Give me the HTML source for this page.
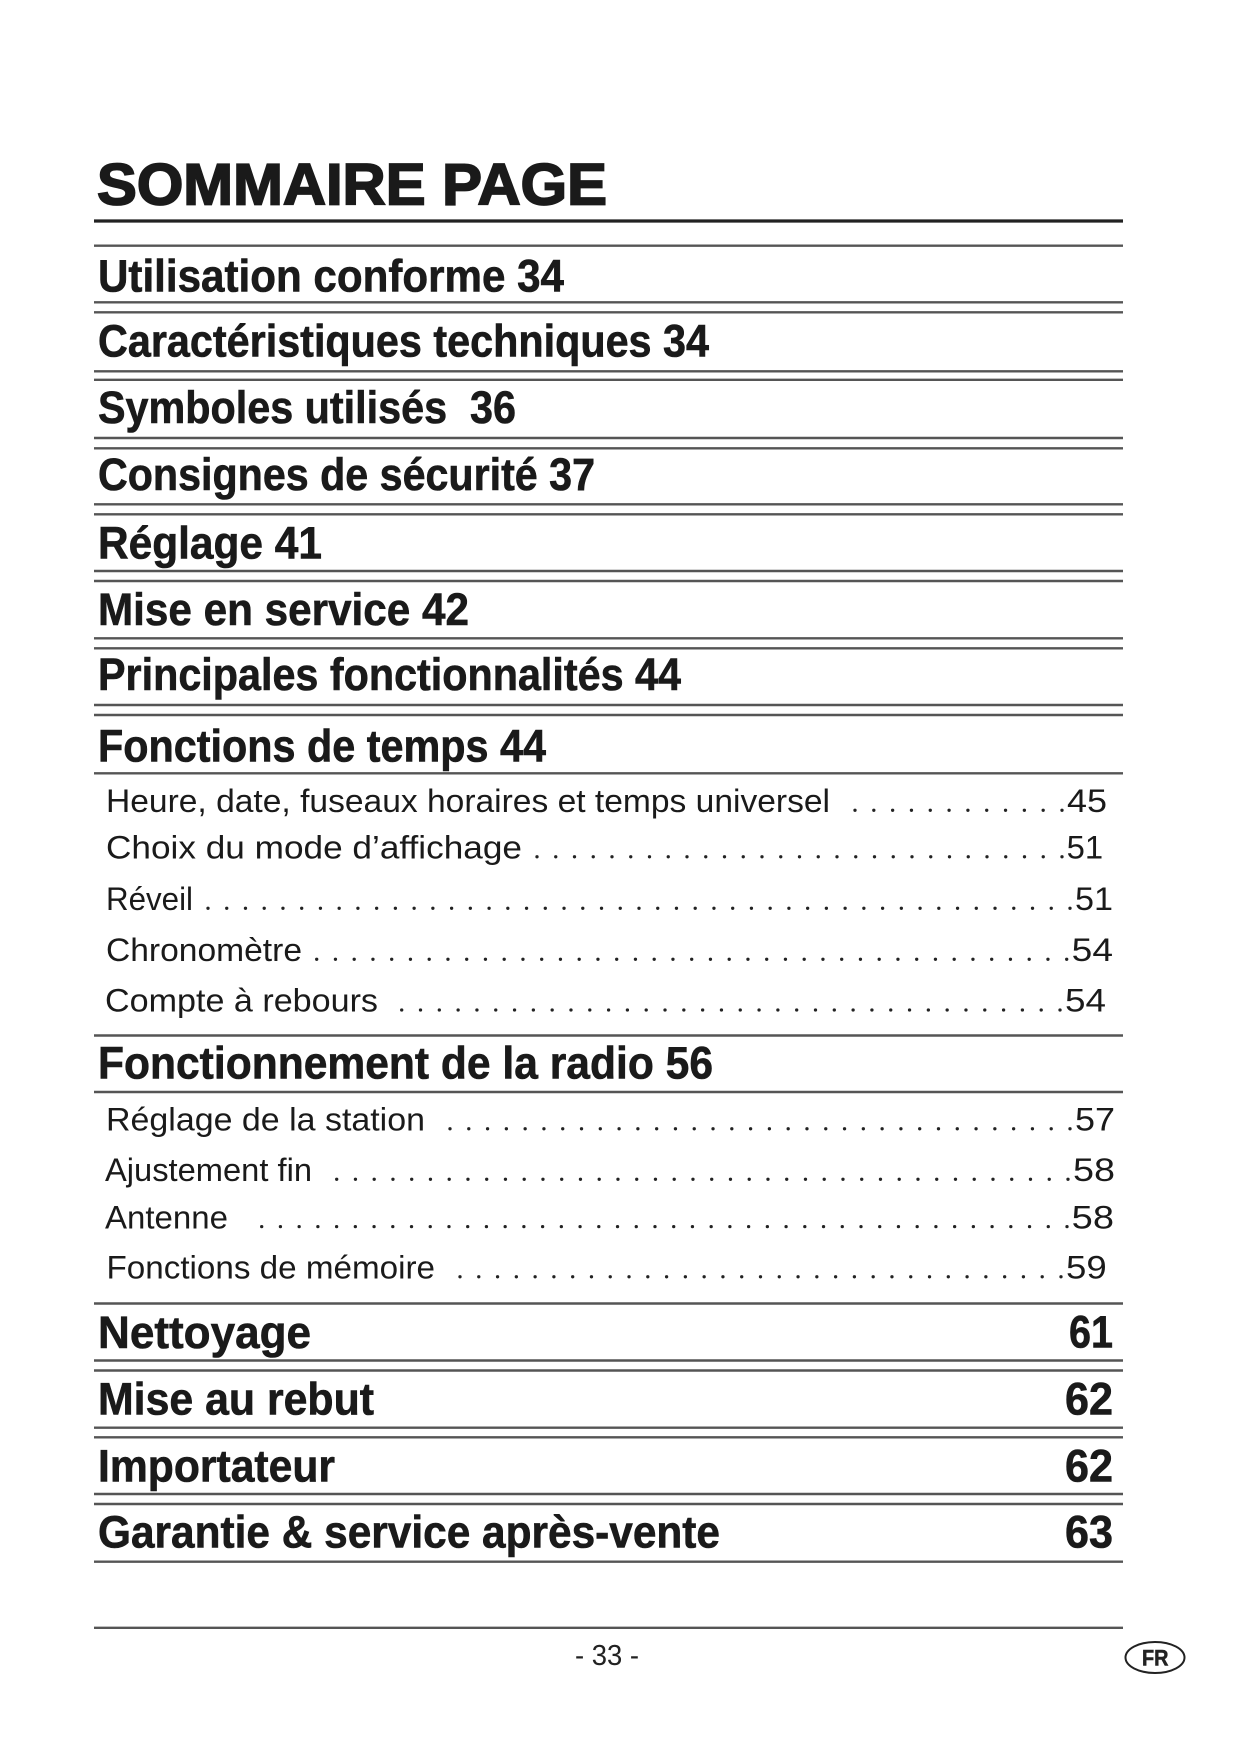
<!DOCTYPE html>
<html>
<head>
<meta charset="utf-8">
<style>
html,body{margin:0;padding:0;background:#ffffff;}
svg{display:block;}
text{font-family:"Liberation Sans",sans-serif;fill:#1a1a1a;}
.h{font-weight:bold;font-size:45px;stroke:#1a1a1a;stroke-width:0.6px;}
.s{font-size:32.5px;}
</style>
</head>
<body>
<svg width="1241" height="1754" viewBox="0 0 1241 1754" xmlns="http://www.w3.org/2000/svg">
<rect width="1241" height="1754" fill="#ffffff"/>

<!-- Title -->
<text x="97" y="204.5" style="font-weight:bold;font-size:58px;stroke:#1a1a1a;stroke-width:1.8px" textLength="510" lengthAdjust="spacingAndGlyphs">SOMMAIRE PAGE</text>
<line x1="94" y1="221" x2="1123" y2="221" stroke="#222" stroke-width="3.2"/>

<!-- rules -->
<g stroke="#555" stroke-width="2.4">
<line x1="94" y1="245.7" x2="1123" y2="245.7"/>
<line x1="94" y1="302.3" x2="1123" y2="302.3"/>
<line x1="94" y1="312.3" x2="1123" y2="312.3"/>
<line x1="94" y1="371.3" x2="1123" y2="371.3"/>
<line x1="94" y1="379.8" x2="1123" y2="379.8"/>
<line x1="94" y1="438" x2="1123" y2="438"/>
<line x1="94" y1="448.3" x2="1123" y2="448.3"/>
<line x1="94" y1="504.3" x2="1123" y2="504.3"/>
<line x1="94" y1="514.3" x2="1123" y2="514.3"/>
<line x1="94" y1="571" x2="1123" y2="571"/>
<line x1="94" y1="581" x2="1123" y2="581"/>
<line x1="94" y1="638.3" x2="1123" y2="638.3"/>
<line x1="94" y1="648.3" x2="1123" y2="648.3"/>
<line x1="94" y1="705" x2="1123" y2="705"/>
<line x1="94" y1="715" x2="1123" y2="715"/>
<line x1="94" y1="773.3" x2="1123" y2="773.3"/>
<line x1="94" y1="1035.5" x2="1123" y2="1035.5"/>
<line x1="94" y1="1092" x2="1123" y2="1092"/>
<line x1="94" y1="1303.5" x2="1123" y2="1303.5"/>
<line x1="94" y1="1360.5" x2="1123" y2="1360.5"/>
<line x1="94" y1="1370.5" x2="1123" y2="1370.5"/>
<line x1="94" y1="1427.7" x2="1123" y2="1427.7"/>
<line x1="94" y1="1437.3" x2="1123" y2="1437.3"/>
<line x1="94" y1="1494" x2="1123" y2="1494"/>
<line x1="94" y1="1504" x2="1123" y2="1504"/>
<line x1="94" y1="1561.7" x2="1123" y2="1561.7"/>
<line x1="94" y1="1627.8" x2="1123" y2="1627.8"/>
</g>

<!-- headings -->
<text class="h" x="98" y="291.7" textLength="466" lengthAdjust="spacingAndGlyphs">Utilisation conforme 34</text>
<text class="h" x="98" y="356.7" textLength="611" lengthAdjust="spacingAndGlyphs">Caractéristiques techniques 34</text>
<text class="h" x="98" y="423" textLength="418" lengthAdjust="spacingAndGlyphs" xml:space="preserve">Symboles utilisés  36</text>
<text class="h" x="98" y="490" textLength="497" lengthAdjust="spacingAndGlyphs">Consignes de sécurité 37</text>
<text class="h" x="98" y="558.3" textLength="224" lengthAdjust="spacingAndGlyphs">Réglage 41</text>
<text class="h" x="98" y="625" textLength="371" lengthAdjust="spacingAndGlyphs">Mise en service 42</text>
<text class="h" x="98" y="690" textLength="583" lengthAdjust="spacingAndGlyphs">Principales fonctionnalités 44</text>
<text class="h" x="98" y="761.7" textLength="448" lengthAdjust="spacingAndGlyphs">Fonctions de temps 44</text>
<text class="h" x="98" y="1078.3" textLength="615" lengthAdjust="spacingAndGlyphs">Fonctionnement de la radio 56</text>
<text class="h" x="98" y="1348" textLength="213" lengthAdjust="spacingAndGlyphs">Nettoyage</text>
<text class="h" x="1069" y="1347.5" textLength="44" lengthAdjust="spacingAndGlyphs">61</text>
<text class="h" x="98" y="1414.3" textLength="276" lengthAdjust="spacingAndGlyphs">Mise au rebut</text>
<text class="h" x="1065" y="1414.3" textLength="48" lengthAdjust="spacingAndGlyphs">62</text>
<text class="h" x="98" y="1481.7" textLength="237" lengthAdjust="spacingAndGlyphs">Importateur</text>
<text class="h" x="1065" y="1481.7" textLength="48" lengthAdjust="spacingAndGlyphs">62</text>
<text class="h" x="98" y="1547.7" textLength="622" lengthAdjust="spacingAndGlyphs">Garantie &amp; service après-vente</text>
<text class="h" x="1065" y="1547.7" textLength="48" lengthAdjust="spacingAndGlyphs">63</text>

<!-- sub entries -->
<text class="s" x="106" y="812" textLength="724" lengthAdjust="spacingAndGlyphs">Heure, date, fuseaux horaires et temps universel</text>
<text class="s" x="1067" y="812" textLength="40" lengthAdjust="spacingAndGlyphs">45</text>
<text class="s" x="106" y="858.5" textLength="416" lengthAdjust="spacingAndGlyphs">Choix du mode d’affichage</text>
<text class="s" x="1066.7" y="858.5" textLength="36.5" lengthAdjust="spacingAndGlyphs">51</text>
<text class="s" x="106" y="910" textLength="87" lengthAdjust="spacingAndGlyphs">Réveil</text>
<text class="s" x="1075" y="910" textLength="38" lengthAdjust="spacingAndGlyphs">51</text>
<text class="s" x="106" y="961" textLength="196" lengthAdjust="spacingAndGlyphs">Chronomètre</text>
<text class="s" x="1071.7" y="961" textLength="41.3" lengthAdjust="spacingAndGlyphs">54</text>
<text class="s" x="105" y="1011.7" textLength="273" lengthAdjust="spacingAndGlyphs">Compte à rebours</text>
<text class="s" x="1065" y="1011.7" textLength="41" lengthAdjust="spacingAndGlyphs">54</text>

<text class="s" x="106" y="1130.5" textLength="319" lengthAdjust="spacingAndGlyphs">Réglage de la station</text>
<text class="s" x="1075" y="1130.5" textLength="40" lengthAdjust="spacingAndGlyphs">57</text>
<text class="s" x="105" y="1181" textLength="207" lengthAdjust="spacingAndGlyphs">Ajustement fin</text>
<text class="s" x="1073" y="1181" textLength="42" lengthAdjust="spacingAndGlyphs">58</text>
<text class="s" x="105" y="1228.3" textLength="123" lengthAdjust="spacingAndGlyphs">Antenne</text>
<text class="s" x="1071.7" y="1228.3" textLength="42.3" lengthAdjust="spacingAndGlyphs">58</text>
<text class="s" x="106.5" y="1278.5" textLength="328.5" lengthAdjust="spacingAndGlyphs">Fonctions de mémoire</text>
<text class="s" x="1066" y="1278.5" textLength="40.7" lengthAdjust="spacingAndGlyphs">59</text>

<!-- dot leaders -->
<g stroke="#222" stroke-width="3.3" stroke-linecap="round" fill="none">
<line x1="855" y1="810.3" x2="1062.8" y2="810.3" stroke-dasharray="0 18.818"/>
<line x1="537" y1="856.8" x2="1062.8" y2="856.8" stroke-dasharray="0 18.75"/>
<line x1="208" y1="908.3" x2="1070.8" y2="908.3" stroke-dasharray="0 18.739"/>
<line x1="316.7" y1="959.3" x2="1067.5" y2="959.3" stroke-dasharray="0 18.75"/>
<line x1="401.7" y1="1010" x2="1060.8" y2="1010" stroke-dasharray="0 18.809"/>
<line x1="450" y1="1128.8" x2="1070.8" y2="1128.8" stroke-dasharray="0 18.788"/>
<line x1="336.7" y1="1179.3" x2="1068.8" y2="1179.3" stroke-dasharray="0 18.751"/>
<line x1="261.7" y1="1226.6" x2="1067.8" y2="1226.6" stroke-dasharray="0 18.728"/>
<line x1="460" y1="1276.8" x2="1061.8" y2="1276.8" stroke-dasharray="0 18.781"/>
</g>

<!-- footer -->
<text x="575" y="1665" style="font-size:29px;fill:#222" textLength="64" lengthAdjust="spacingAndGlyphs" xml:space="preserve">- 33 -</text>
<ellipse cx="1155" cy="1657.5" rx="29.5" ry="15.5" fill="none" stroke="#222" stroke-width="2"/>
<text x="1142" y="1665.7" style="font-weight:bold;font-size:22px;fill:#222;stroke:#222;stroke-width:0.5px" textLength="26.5" lengthAdjust="spacingAndGlyphs">FR</text>
</svg>
</body>
</html>
